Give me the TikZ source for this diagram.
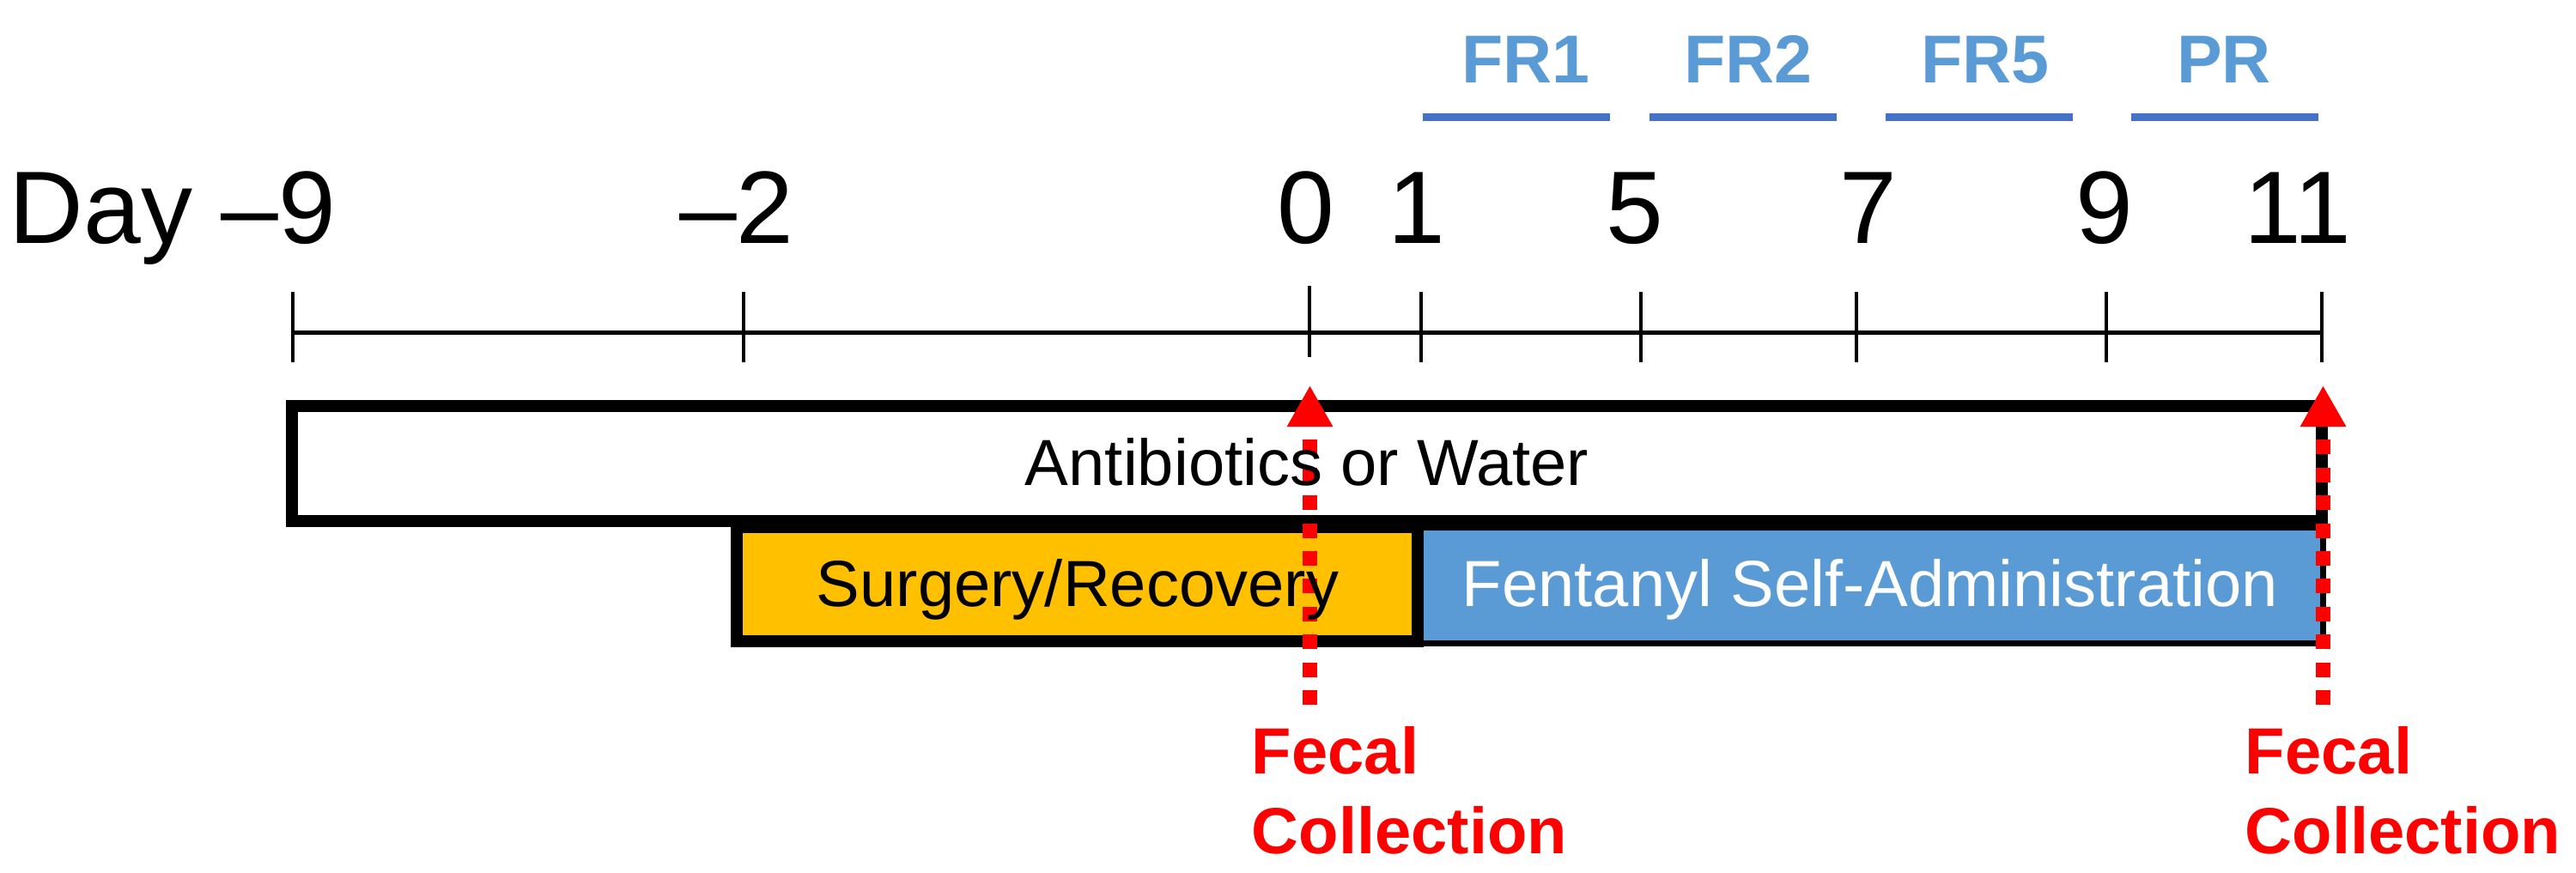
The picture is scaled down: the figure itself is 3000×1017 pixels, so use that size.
\documentclass[tikz,border=0pt]{standalone}
\usepackage{fontspec}
\setmainfont{Liberation Sans}
\usetikzlibrary{arrows.meta}
\definecolor{frblue}{HTML}{5B9BD5}
\definecolor{barblue}{HTML}{4472C4}
\definecolor{surgyellow}{HTML}{FFC000}
\definecolor{fecalred}{HTML}{FF0000}
\begin{document}
\begin{tikzpicture}[x=0.25pt,y=-0.25pt,
  daylabel/.style={font=\fontsize{30pt}{36pt}\selectfont, anchor=base, inner sep=0pt},
  phaselabel/.style={font=\fontsize{19.75pt}{24pt}\selectfont\bfseries, text=frblue, anchor=base, inner sep=0pt},
  phasebar/.style={draw=barblue, line width=2.25pt},
  tickmark/.style={line width=1pt},
  boxtext/.style={font=\fontsize{19pt}{23pt}\selectfont, anchor=base, inner sep=0pt},
  fecaltext/.style={font=\fontsize{19pt}{23pt}\selectfont\bfseries, text=fecalred, anchor=base west, inner sep=0pt},
  collect/.style={draw=fecalred, line width=4.25pt, dash pattern=on 4.25pt off 3.85pt, -{Triangle[length=12pt,width=12.5pt]}},
]
\useasboundingbox (0,0) rectangle (3000,1017);

% phase labels and bars
\node[phaselabel] (fr1) at (1777,96) {FR1};
\node[phaselabel] (fr2) at (2036,96) {FR2};
\node[phaselabel] (fr5) at (2312,96) {FR5};
\node[phaselabel] (pr)  at (2590,96) {PR};
\draw[phasebar] (1657,136.5) -- (1875,136.5);
\draw[phasebar] (1921,136.5) -- (2139,136.5);
\draw[phasebar] (2196,136.5) -- (2414,136.5);
\draw[phasebar] (2482,136.5) -- (2700,136.5);

% day labels
\node[daylabel] (dm9) at (201,283) {Day –9};
\node[daylabel] (dm2) at (858,283) {–2};
\node[daylabel] (d0)  at (1521,283) {0};
\node[daylabel] (d1)  at (1650,283) {1};
\node[daylabel] (d5)  at (1904,283) {5};
\node[daylabel] (d7)  at (2176,283) {7};
\node[daylabel] (d9)  at (2451,283) {9};
\node[daylabel] (d11) at (2676,283) {11};

% axis and ticks
\draw[line width=1.25pt] (341,387) -- (2704,387);
\draw[tickmark] (341,340) -- (341,422);
\draw[tickmark] (866,340) -- (866,422);
\draw[tickmark] (1525,333) -- (1525,416);
\draw[tickmark] (1655,340) -- (1655,422);
\draw[tickmark] (1911,340) -- (1911,422);
\draw[tickmark] (2162,340) -- (2162,422);
\draw[tickmark] (2453,340) -- (2453,422);
\draw[tickmark] (2704,340) -- (2704,422);

% boxes
\draw[line width=1.75pt, fill=frblue] (1651,614) rectangle (2705,749);
\draw[line width=3.5pt, fill=surgyellow] (858,614) rectangle (1651,747);
\draw[line width=3.5pt, fill=white] (340,473) rectangle (2704,607);

% fecal collection arrows
\coordinate (fcAs) at (1525.5,821);
\coordinate (fcAt) at (1525.5,449);
\coordinate (fcBs) at (2705.5,821);
\coordinate (fcBt) at (2705.5,449);
\draw[collect] (fcAs) -- (fcAt);
\draw[collect] (fcBs) -- (fcBt);

% box texts
\node[boxtext] (abx) at (1522,565) {Antibiotics or Water};
\node[boxtext] (sur) at (1255,706) {Surgery/Recovery};
\node[boxtext, text=white] (fen) at (2178,706) {Fentanyl Self-Administration};

% fecal collection labels
\node[fecaltext] (fecA) at (1457,901) {Fecal};
\node[fecaltext] (colA) at (1457,994) {Collection};
\node[fecaltext] (fecB) at (2614,901) {Fecal};
\node[fecaltext] (colB) at (2614,994) {Collection};
\end{tikzpicture}
\end{document}
